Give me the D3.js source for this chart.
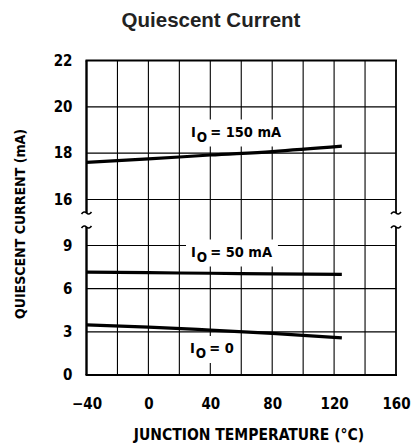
<!DOCTYPE html>
<html>
<head>
<meta charset="utf-8">
<script src="https://cdn.jsdelivr.net/npm/d3@7"></script>
<style>
  body { margin: 0; background: #fff; }
  svg { display: block; }
</style>
</head>
<body>
<script>
// Chart data
const temps = [-40, 0, 40, 80, 125];
const io150 = [17.6, 17.75, 17.92, 18.07, 18.3];
const io50 = [7.15, 7.11, 7.07, 7.03, 6.99];
const io0 = [3.48, 3.33, 3.12, 2.89, 2.58];

const xTicks = [-40, 0, 40, 80, 120, 160];
const upperTicks = [16, 18, 20, 22];
const lowerTicks = [0, 3, 6, 9];

const width = 411;
const height = 444;

const margin = {
    top: 60.5,
    right: 15,
    bottom: 69,
    left: 86.5
};

const condensed = "'Liberation Sans Narrow', 'DejaVu Sans Condensed', 'Roboto Condensed', sans-serif";

// x scale
const x = d3.scaleLinear([-40, 160], [margin.left, width - margin.right]);
// the y axis is broken in two pieces
const yUpper = d3.scaleLinear([16, 22], [199.5, margin.top]);
const yLower = d3.scaleLinear([0, 9], [height - margin.bottom, 245.5]);
const breakTop = 213;
const breakBottom = 227;

const svg = d3.select("body").append("svg")
    .attr("width", width)
    .attr("height", height)
    .attr("viewBox", [0, 0, width, height]);

// title
svg.append("text")
    .attr("x", 211)
    .attr("y", 27)
    .attr("text-anchor", "middle")
    .style("font", "bold 20.5px 'Liberation Sans', Arial, sans-serif")
    .attr("fill", "#222")
    .text("Quiescent Current");

// grid
const grid = svg.append("g")
    .attr("stroke", "#000")
    .attr("stroke-width", 1.1);

grid.selectAll(".vline")
    .data(d3.range(-20, 160, 20))
    .join("line")
    .attr("x1", d => x(d))
    .attr("x2", d => x(d))
    .attr("y1", yUpper(22))
    .attr("y2", yLower(0));

grid.selectAll(".hup")
    .data(upperTicks.slice(0, -1))
    .join("line")
    .attr("class", "hup")
    .attr("x1", x(-40))
    .attr("x2", x(160))
    .attr("y1", d => yUpper(d))
    .attr("y2", d => yUpper(d));

grid.selectAll(".hlow")
    .data(lowerTicks.slice(1))
    .join("line")
    .attr("class", "hlow")
    .attr("x1", x(-40))
    .attr("x2", x(160))
    .attr("y1", d => yLower(d))
    .attr("y2", d => yLower(d));

// frame with the break marks
const frame = svg.append("g")
    .attr("stroke", "#000")
    .attr("fill", "none");

frame.append("line")
    .attr("x1", x(-40) - 1).attr("x2", x(160) + 1)
    .attr("y1", yUpper(22)).attr("y2", yUpper(22))
    .attr("stroke-width", 2);
frame.append("line")
    .attr("x1", x(-40) - 1).attr("x2", x(160) + 1)
    .attr("y1", yLower(0)).attr("y2", yLower(0))
    .attr("stroke-width", 2);

[[-40, 2.4], [160, 1.8]].forEach(([t, w]) => {
    const xx = x(t);
    frame.append("line")
        .attr("x1", xx).attr("x2", xx)
        .attr("y1", yUpper(22)).attr("y2", breakTop)
        .attr("stroke-width", w);
    frame.append("line")
        .attr("x1", xx).attr("x2", xx)
        .attr("y1", breakBottom).attr("y2", yLower(0))
        .attr("stroke-width", w);
    [breakTop, breakBottom].forEach(yy => {
        frame.append("path")
            .attr("d", `M${xx - 5},${yy + 1} q2.5,-3.5 5,-1 t5,-1`)
            .attr("stroke-width", 1.6);
    });
});

// axes
const tickFont = `bold 15px ${condensed}`;
const fmt = d => d < 0 ? "\u2212" + Math.abs(d) : String(d);

const xAxis = svg.append("g")
    .attr("transform", `translate(0,${yLower(0)})`)
    .call(d3.axisBottom(x).tickValues(xTicks).tickSize(0).tickPadding(23).tickFormat(fmt));
xAxis.select(".domain").remove();
xAxis.selectAll("text").style("font", tickFont).attr("fill", "#000");

const yAxisUp = svg.append("g")
    .attr("transform", `translate(${margin.left},0)`)
    .call(d3.axisLeft(yUpper).tickValues(upperTicks).tickSize(0).tickPadding(14).tickFormat(d3.format("d")));
const yAxisLow = svg.append("g")
    .attr("transform", `translate(${margin.left},0)`)
    .call(d3.axisLeft(yLower).tickValues(lowerTicks).tickSize(0).tickPadding(14).tickFormat(d3.format("d")));
[yAxisUp, yAxisLow].forEach(g => {
    g.select(".domain").remove();
    g.selectAll("text").style("font", tickFont).attr("fill", "#000");
});

// axis titles
svg.append("text")
    .attr("x", 249)
    .attr("y", 440)
    .attr("text-anchor", "middle")
    .style("font", `bold 15.5px ${condensed}`)
    .text("JUNCTION TEMPERATURE (\u00b0C)");

svg.append("text")
    .attr("transform", `translate(25,224) rotate(-90)`)
    .attr("text-anchor", "middle")
    .style("font", `bold 14px ${condensed}`)
    .text("QUIESCENT CURRENT (mA)");

// curves
const series = [
    {values: io150, y: yUpper},
    {values: io50, y: yLower},
    {values: io0, y: yLower}
];

const curves = svg.append("g")
    .attr("fill", "none")
    .attr("stroke", "#000")
    .attr("stroke-width", 3.2);

series.forEach(s => {
    const line = d3.line()
        .x(d => x(d[0]))
        .y(d => s.y(d[1]))
        .curve(d3.curveMonotoneX);
    curves.append("path")
        .attr("d", line(temps.map((t, i) => [t, s.values[i]])));
});

// curve labels with subscript O
const labels = [
    {text: "= 150 mA", x: 191, y: 136.5},
    {text: "= 50 mA", x: 191, y: 256.5},
    {text: "= 0", x: 190, y: 353}
];

labels.forEach(l => {
    const g = svg.append("g");
    const bg = g.append("rect").attr("fill", "#fff");
    const t = g.append("text")
        .attr("x", l.x)
        .attr("y", l.y)
        .style("font", `bold 14.5px ${condensed}`);
    t.append("tspan").text("I");
    t.append("tspan").attr("dy", 5).attr("dx", 1).style("font-size", "13.5px").text("O");
    t.append("tspan").attr("dy", -5).attr("dx", 3).text(l.text);
    const b = t.node().getBBox();
    bg.attr("x", b.x - 5).attr("y", b.y - 4)
        .attr("width", b.width + 10).attr("height", b.height + 6);
});
</script>
</body>
</html>
